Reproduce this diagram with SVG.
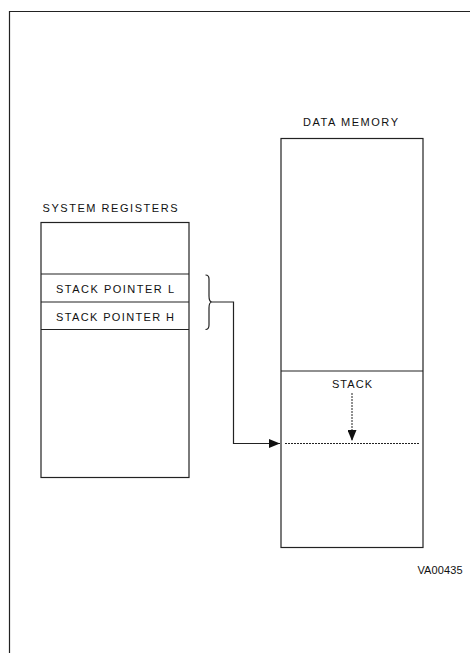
<svg xmlns="http://www.w3.org/2000/svg" width="470" height="653" viewBox="0 0 470 653">
<style>
.t{font-family:"Liberation Sans",Arial,sans-serif;font-size:11px;fill:#111;text-anchor:middle}
.b{fill:none;stroke:#222;stroke-width:1.2}
.d{fill:none;stroke:#222;stroke-width:1;stroke-dasharray:2,1}
</style>
<defs>
<marker id="ah" markerWidth="11" markerHeight="9" refX="11" refY="4.5" orient="auto" markerUnits="userSpaceOnUse">
<path d="M0,0 L11,4.5 L0,9 Z" fill="#111"/>
</marker>
</defs>
<rect width="470" height="653" fill="#fff"/>
<path class="b" d="M470,11.5 H9.5 V653" stroke-width="1.5"/>
<g id="system-registers">
<text class="t" x="110" y="212" textLength="135" lengthAdjust="spacing">SYSTEM REGISTERS</text>
<rect class="b" x="41" y="222.5" width="148" height="255"/>
<line class="b" x1="41" y1="274" x2="189" y2="274"/>
<line class="b" x1="41" y1="302" x2="189" y2="302"/>
<line class="b" x1="41" y1="329.5" x2="189" y2="329.5"/>
<text class="t" x="115" y="292.5" textLength="118" lengthAdjust="spacing">STACK POINTER L</text>
<text class="t" x="115" y="320.5" textLength="118" lengthAdjust="spacing">STACK POINTER H</text>
</g>
<g id="data-memory">
<text class="t" x="350.5" y="126" textLength="95" lengthAdjust="spacing">DATA MEMORY</text>
<rect class="b" x="281" y="138.5" width="142" height="409"/>
<line class="b" x1="281" y1="371" x2="423" y2="371"/>
<text class="t" x="352" y="388" textLength="40" lengthAdjust="spacing">STACK</text>
<line class="d" x1="285" y1="443.5" x2="420" y2="443.5"/>
<line class="d" x1="352" y1="393" x2="352" y2="441" marker-end="url(#ah)"/>
</g>
<g id="connectors">
<path class="b" d="M205.5,275 Q209,275 209,279 V296 Q209,302 212,302 Q209,302 209,308 V325 Q209,329.5 205.5,329.5" stroke-width="1"/>
<path class="b" d="M212,302 H233.5 V443.5 H280" marker-end="url(#ah)" stroke-width="1"/>
</g>
<text class="t" x="440" y="574" textLength="45" lengthAdjust="spacing">VA00435</text>
</svg>
